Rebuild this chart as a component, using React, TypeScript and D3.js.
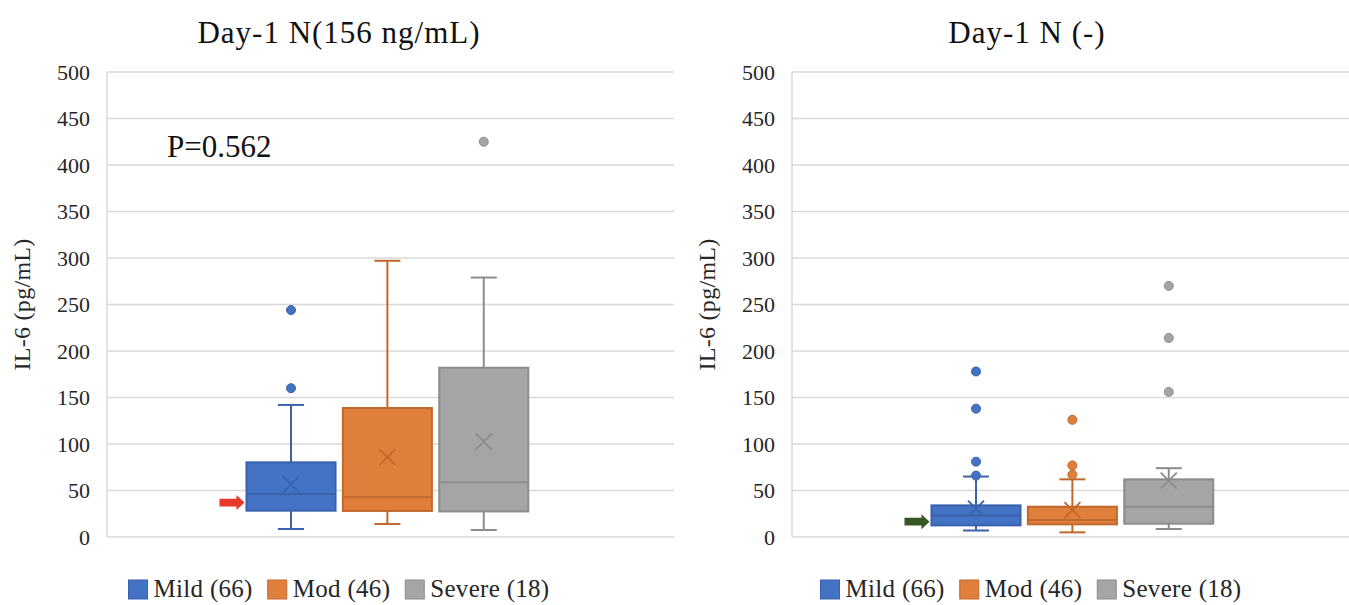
import React, { useEffect, useRef } from "react";
import * as d3 from "d3";

const seriesNames = ["Mild (66)", "Mod (46)", "Severe (18)"];
const fillColors = ["#4472C4", "#E07E3C", "#A5A5A5"];
const strokeColors = ["#3A62AC", "#C0692D", "#8C8C8C"];
const yTicks = [0, 50, 100, 150, 200, 250, 300, 350, 400, 450, 500];

const titles = ["Day-1 N(156 ng/mL)", "Day-1 N (-)"];
const yAxisTitle = "IL-6 (pg/mL)";
const annotations = ["P=0.562", ""];

// Panel 1: Day-1 N(156 ng/mL)
const p1Min = [8.6, 14, 7.5];
const p1Q1 = [28.3, 28, 27.5];
const p1Median = [46.2, 42.7, 59];
const p1Q3 = [80.3, 138.7, 182];
const p1Max = [142, 297, 279];
const p1Mean = [56.6, 86, 102.5];
const p1Outliers = [[160, 244], [], [425]];

// Panel 2: Day-1 N (-)
const p2Min = [7, 5, 8.6];
const p2Q1 = [12.5, 13.6, 14.3];
const p2Median = [23, 18.3, 32.6];
const p2Q3 = [34, 32.6, 62];
const p2Max = [65, 62, 74];
const p2Mean = [30.5, 29, 60.5];
const p2Outliers = [[66, 81, 138, 178], [67, 77, 126], [156, 214, 270]];

// arrow markers (value pointed at, left of Mild box)
const arrowValues = [37, 16.5];
const arrowColors = ["#E8382A", "#375623"];

const FONT = "'Liberation Serif', 'Times New Roman', serif";

export default function App() {
  const ref = useRef<SVGSVGElement | null>(null);

  useEffect(() => {
    const svg = d3.select(ref.current);
    svg.selectAll("*").remove();

    const panels = [
      { left: 107, titleX: 339, legendX: 339, min: p1Min, q1: p1Q1, med: p1Median, q3: p1Q3, max: p1Max, mean: p1Mean, out: p1Outliers },
      { left: 792, titleX: 1027, legendX: 1031, min: p2Min, q1: p2Q1, med: p2Median, q3: p2Q3, max: p2Max, mean: p2Mean, out: p2Outliers },
    ];
    const W = 567;
    const top = 72;
    const bottom = 537;

    panels.forEach((p, pi) => {
      const g = svg.append("g");
      const y = d3.scaleLinear().domain([0, 500]).range([bottom, top]);
      const x = d3
        .scaleBand<string>()
        .domain(seriesNames)
        .range([p.left + 0.246 * W, p.left + 0.743 * W])
        .paddingInner(0.076)
        .paddingOuter(0);

      // gridlines
      g.selectAll("line.grid")
        .data(yTicks)
        .enter()
        .append("line")
        .attr("x1", p.left)
        .attr("x2", p.left + W)
        .attr("y1", (d) => y(d))
        .attr("y2", (d) => y(d))
        .attr("stroke", "#D9D9D9")
        .attr("stroke-width", 1.7);
      g.append("line")
        .attr("x1", p.left)
        .attr("x2", p.left)
        .attr("y1", y(500))
        .attr("y2", y(0))
        .attr("stroke", "#D9D9D9")
        .attr("stroke-width", 1.5);

      // tick labels
      g.selectAll("text.tick")
        .data(yTicks)
        .enter()
        .append("text")
        .attr("x", p.left - 17)
        .attr("y", (d) => y(d))
        .attr("dy", "0.35em")
        .attr("text-anchor", "end")
        .attr("font-family", FONT)
        .attr("font-size", 22)
        .attr("fill", "#262626")
        .text((d) => String(d));

      // axis title
      g.append("text")
        .attr("transform", `translate(${p.left - 85},${(top + bottom) / 2}) rotate(-90)`)
        .attr("dy", "0.35em")
        .attr("text-anchor", "middle")
        .attr("font-family", FONT)
        .attr("font-size", 24)
        .attr("letter-spacing", 0.3)
        .attr("fill", "#262626")
        .text(yAxisTitle);

      // chart title
      g.append("text")
        .attr("x", p.titleX)
        .attr("y", 43)
        .attr("text-anchor", "middle")
        .attr("font-family", FONT)
        .attr("font-size", 31)
        .attr("letter-spacing", 1)
        .attr("fill", "#111")
        .text(titles[pi]);

      if (annotations[pi]) {
        g.append("text")
          .attr("x", p.left + 60)
          .attr("y", 157)
          .attr("font-family", FONT)
          .attr("font-size", 31)
          .attr("fill", "#111")
          .text(annotations[pi]);
      }

      // boxes
      seriesNames.forEach((s, i) => {
        const bx = x(s)!;
        const bw = x.bandwidth();
        const cx = bx + bw / 2;
        const sc = strokeColors[i];
        const capW = 26;
        // whiskers
        g.append("line").attr("x1", cx).attr("x2", cx).attr("y1", y(p.q3[i])).attr("y2", y(p.max[i])).attr("stroke", sc).attr("stroke-width", 2);
        g.append("line").attr("x1", cx).attr("x2", cx).attr("y1", y(p.q1[i])).attr("y2", y(p.min[i])).attr("stroke", sc).attr("stroke-width", 2);
        g.append("line").attr("x1", cx - capW / 2).attr("x2", cx + capW / 2).attr("y1", y(p.max[i])).attr("y2", y(p.max[i])).attr("stroke", sc).attr("stroke-width", 2);
        g.append("line").attr("x1", cx - capW / 2).attr("x2", cx + capW / 2).attr("y1", y(p.min[i])).attr("y2", y(p.min[i])).attr("stroke", sc).attr("stroke-width", 2);
        // box
        g.append("rect")
          .attr("x", bx)
          .attr("y", y(p.q3[i]))
          .attr("width", bw)
          .attr("height", y(p.q1[i]) - y(p.q3[i]))
          .attr("fill", fillColors[i])
          .attr("stroke", sc)
          .attr("stroke-width", 2);
        // median
        g.append("line").attr("x1", bx).attr("x2", bx + bw).attr("y1", y(p.med[i])).attr("y2", y(p.med[i])).attr("stroke", sc).attr("stroke-width", 2);
        // mean X
        const my = y(p.mean[i]);
        const m = 8;
        g.append("path")
          .attr("d", `M${cx - m},${my - m}L${cx + m},${my + m}M${cx - m},${my + m}L${cx + m},${my - m}`)
          .attr("stroke", sc)
          .attr("stroke-width", 1.8)
          .attr("fill", "none");
        // outliers
        g.selectAll(null)
          .data(p.out[i])
          .enter()
          .append("circle")
          .attr("cx", cx)
          .attr("cy", (d) => y(d))
          .attr("r", 4.5)
          .attr("fill", fillColors[i])
          .attr("stroke", sc)
          .attr("stroke-width", 1);
      });

      // arrow
      const ay = y(arrowValues[pi]);
      const ax1 = x(seriesNames[0])! - 2;
      const ax0 = ax1 - 25;
      g.append("path")
        .attr(
          "d",
          `M${ax0},${ay - 3.8}L${ax1 - 8},${ay - 3.8}L${ax1 - 8},${ay - 7.5}L${ax1},${ay}L${ax1 - 8},${ay + 7.5}L${ax1 - 8},${ay + 3.8}L${ax0},${ay + 3.8}Z`
        )
        .attr("fill", arrowColors[pi]);

      // legend
      const lg = g.append("g");
      let cur = 0;
      seriesNames.forEach((s, i) => {
        lg.append("rect")
          .attr("x", cur)
          .attr("y", 580)
          .attr("width", 19)
          .attr("height", 19)
          .attr("fill", fillColors[i])
          .attr("stroke", strokeColors[i])
          .attr("stroke-width", 1);
        const t = lg
          .append("text")
          .attr("x", cur + 25)
          .attr("y", 597)
          .attr("font-family", FONT)
          .attr("font-size", 25)
          .attr("letter-spacing", 0.3)
          .attr("fill", "#262626")
          .text(s);
        const tw = (t.node() as SVGTextElement).getComputedTextLength();
        cur += 25 + tw + (i < seriesNames.length - 1 ? 15 : 0);
      });
      lg.attr("transform", `translate(${p.legendX - cur / 2},0)`);
    });
  }, []);

  return (
    <svg ref={ref} width={1349} height={605} style={{ display: "block", position: "absolute", left: 0, top: 0, background: "#fff" }} />
  );
}
